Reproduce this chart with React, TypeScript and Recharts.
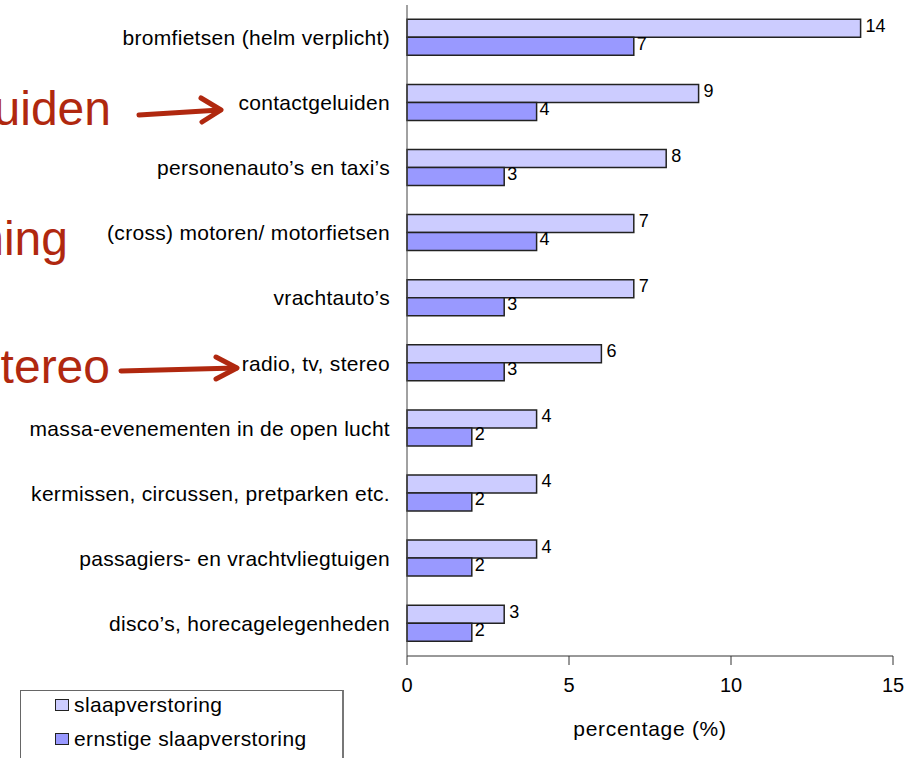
import { BarChart, Bar, XAxis, YAxis, LabelList } from "recharts";

const categories = [
  "bromfietsen (helm verplicht)",
  "contactgeluiden",
  "personenauto’s en taxi’s",
  "(cross) motoren/ motorfietsen",
  "vrachtauto’s",
  "radio, tv, stereo",
  "massa-evenementen in de open lucht",
  "kermissen, circussen, pretparken etc.",
  "passagiers- en vrachtvliegtuigen",
  "disco’s, horecagelegenheden",
];
const slaapverstoring = [14, 9, 8, 7, 7, 6, 4, 4, 4, 3];
const ernstig = [7, 4, 3, 4, 3, 3, 2, 2, 2, 2];
const xTicks = [0, 5, 10, 15];

const data = categories.map((name, i) => ({
  name,
  slaap: slaapverstoring[i],
  ernstig: ernstig[i],
}));

const font = "'Liberation Sans', Arial, sans-serif";
const red = "#b0280f";

export default function App() {
  return (
    <div style={{ position: "absolute", left: 0, top: 0, width: 923, height: 758, fontFamily: font }}>
      <BarChart
        width={923}
        height={758}
        data={data}
        layout="vertical"
        margin={{ top: 5, right: 30, bottom: 2, left: 0 }}
        barCategoryGap="22%"
        barGap={0}
      >
        <XAxis
          type="number"
          domain={[0, 15]}
          ticks={xTicks}
          height={100}
          tickSize={9}
          tickMargin={13}
          stroke="#333"
          tick={{ fill: "#000", fontSize: 20, fontFamily: font }}
          label={{ value: "percentage (%)", position: "insideBottom", offset: 20, fill: "#000", fontSize: 21, fontFamily: font, letterSpacing: 0.7 }}
        />
        <XAxis xAxisId="top" type="number" orientation="top" domain={[0, 15]} height={0} tick={false} tickLine={false} stroke="#999" />
        <YAxis
          type="category"
          dataKey="name"
          width={407}
          tickLine={false}
          tickSize={0}
          tickMargin={17}
          stroke="#444"
          interval={0}
          tick={{ fill: "#000", fontSize: 21, fontFamily: font, letterSpacing: 0.3 }}
        />
        <YAxis yAxisId="right" type="category" orientation="right" width={0} tick={false} tickLine={false} stroke="#999" />
        <Bar dataKey="slaap" fill="#ccccff" stroke="#222" strokeWidth={1.5} isAnimationActive={false}>
          <LabelList dataKey="slaap" position="right" offset={5} dy={-3} fill="#000" fontSize={18} fontFamily={font} />
        </Bar>
        <Bar dataKey="ernstig" fill="#9999ff" stroke="#222" strokeWidth={1.5} isAnimationActive={false}>
          <LabelList dataKey="ernstig" position="right" offset={3} dy={-3} fill="#000" fontSize={18} fontFamily={font} />
        </Bar>
      </BarChart>

      {/* red slide annotations, cropped at the left edge like the source */}
      <svg width={923} height={758} style={{ position: "absolute", left: 0, top: 0, pointerEvents: "none" }}>
        <text x={111} y={125} textAnchor="end" fontSize={48} fill={red} fontFamily={font}>uiden</text>
        <text x={68} y={255} textAnchor="end" fontSize={48} fill={red} fontFamily={font}>hing</text>
        <text x={110} y={383} textAnchor="end" fontSize={48} fill={red} fontFamily={font}>tereo</text>
        <g stroke={red} strokeWidth={5} strokeLinecap="round" strokeLinejoin="round" fill="none">
          <path d="M139,115 L220,110" />
          <path d="M201,98 L221,110 L202,122" />
          <path d="M121,371 L236,368" />
          <path d="M216,357 L237,368 L216,379" />
        </g>
      </svg>

      <div
        style={{
          position: "absolute",
          left: 20,
          top: 690,
          width: 324,
          height: 80,
          border: "1.5px solid #666",
          borderRight: "2px solid #777",
          boxSizing: "border-box",
          fontSize: 21,
          letterSpacing: 0.4,
          color: "#000",
        }}
      >
        <div style={{ marginTop: -3 }}>
          {[
            { label: "slaapverstoring", color: "#ccccff" },
            { label: "ernstige slaapverstoring", color: "#9999ff" },
          ].map((it) => (
            <div key={it.label} style={{ display: "flex", alignItems: "center", height: 34, paddingLeft: 34, whiteSpace: "nowrap" }}>
              <span
                style={{
                  display: "inline-block",
                  width: 14,
                  height: 12,
                  background: it.color,
                  border: "1.5px solid #222",
                  boxSizing: "border-box",
                  marginRight: 5,
                  flexShrink: 0,
                }}
              />
              {it.label}
            </div>
          ))}
        </div>
      </div>
    </div>
  );
}
